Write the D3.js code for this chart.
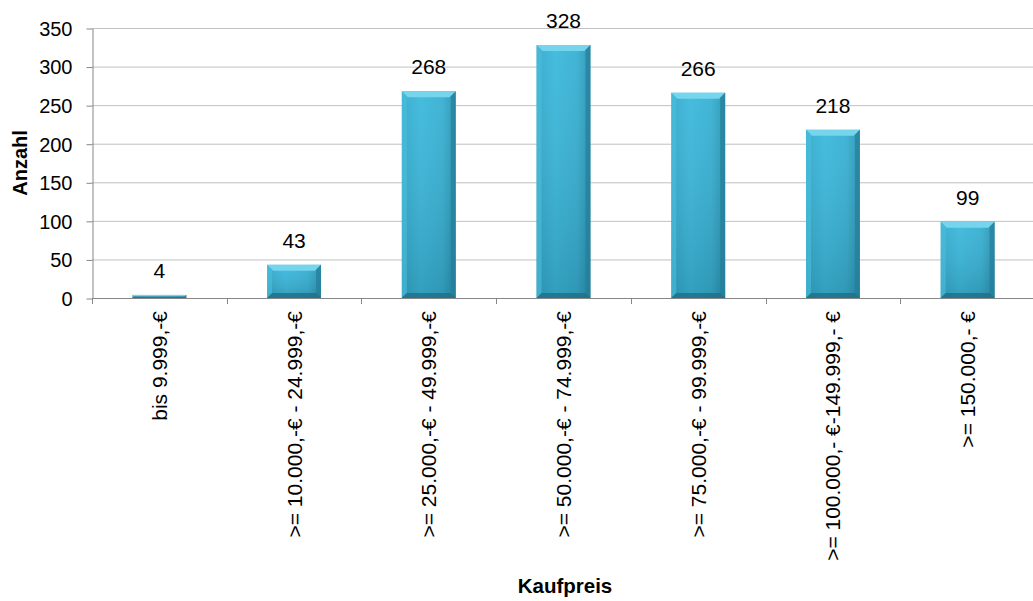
<!DOCTYPE html>
<html><head><meta charset="utf-8">
<script src="https://cdn.jsdelivr.net/npm/d3@7"></script>
<style>body{margin:0;background:#fff}svg{display:block}</style>
</head><body><svg id="c" width="1033" height="601"></svg>
<script>
const categories = ["bis 9.999,-€", ">= 10.000,-€ - 24.999,-€", ">= 25.000,-€ - 49.999,-€", ">= 50.000,-€ - 74.999,-€", ">= 75.000,-€ - 99.999,-€", ">= 100.000,- €-149.999,- €", ">= 150.000,- €"];
const values = [4, 43, 268, 328, 266, 218, 99];
const yTicks = [0, 50, 100, 150, 200, 250, 300, 350];

const svg = d3.select("#c");
const m = {l: 92, r: -2};
const W = 1033;
const x = d3.scaleBand().domain(categories).range([m.l, W - m.r]).paddingInner(0.6).paddingOuter(0.3);
const y = d3.scaleLinear().domain([0, 350]).range([298, 28]);
const font = "'Liberation Sans', Arial, sans-serif";

const defs = svg.append("defs");
const g1 = defs.append("linearGradient").attr("id", "bg").attr("x1", 0).attr("x2", 1).attr("y1", 0).attr("y2", 0);
g1.append("stop").attr("offset", 0).attr("stop-color", "#32a9cb");
g1.append("stop").attr("offset", 0.35).attr("stop-color", "#3ab8dc");
g1.append("stop").attr("offset", 0.75).attr("stop-color", "#36afd2");
g1.append("stop").attr("offset", 1).attr("stop-color", "#2993b2");
const g2 = defs.append("linearGradient").attr("id", "vg").attr("x1", 0).attr("x2", 0).attr("y1", 0).attr("y2", 1);
g2.append("stop").attr("offset", 0).attr("stop-color", "#ffffff").attr("stop-opacity", 0.06);
g2.append("stop").attr("offset", 1).attr("stop-color", "#000000").attr("stop-opacity", 0.14);

// gridlines
svg.append("g").selectAll("line").data(yTicks.filter(d => d > 0)).join("line")
  .attr("x1", m.l).attr("x2", W).attr("y1", d => y(d) + 0.5).attr("y2", d => y(d) + 0.5)
  .attr("stroke", "#c0c0c0").attr("stroke-width", 1);

// y axis
const ya = svg.append("g").attr("transform", `translate(${m.l + 0.5},0.5)`)
  .call(d3.axisLeft(y).tickValues(yTicks).tickSize(6).tickSizeOuter(0).tickPadding(14));
ya.select(".domain").attr("stroke", "#868686");
ya.selectAll(".tick line").attr("stroke", "#868686");
ya.selectAll("text").attr("font-family", font).attr("font-size", 20).attr("fill", "#000").attr("dy", "0.34em");

// bars
const bars = svg.append("g").selectAll("g").data(values).join("g");
const bw = x.bandwidth();
bars.append("rect")
  .attr("x", (d, i) => x(categories[i])).attr("y", d => y(d))
  .attr("width", bw).attr("height", d => y(0) - y(d)).attr("fill", "url(#bg)");
bars.append("rect")
  .attr("x", (d, i) => x(categories[i])).attr("y", d => y(d))
  .attr("width", bw).attr("height", d => y(0) - y(d)).attr("fill", "url(#vg)");
bars.append("path").attr("d", (d, i) => {
  const x0 = x(categories[i]), x1 = x0 + bw, t = y(d), h = Math.min(6, (y(0) - y(d)) / 2);
  return `M${x0},${t}L${x1},${t}L${x1 - h},${t + h}L${x0 + h},${t + h}Z`;
}).attr("fill", "#74d5ec");
bars.append("path").attr("d", (d, i) => {
  const x0 = x(categories[i]), x1 = x0 + bw, t = y(d), b = y(0), h = Math.min(5, (b - t) / 2);
  return `M${x1},${t}L${x1},${b}L${x1 - h},${b - h}L${x1 - h},${t + h}Z`;
}).attr("fill", "#237f9a").attr("opacity", 0.7);
bars.append("path").attr("d", (d, i) => {
  const x0 = x(categories[i]), t = y(d), b = y(0), h = Math.min(5, (b - t) / 2);
  return `M${x0},${t}L${x0},${b}L${x0 + h},${b - h}L${x0 + h},${t + h}Z`;
}).attr("fill", "#4cc0de").attr("opacity", 0.6);
bars.append("path").attr("d", (d, i) => {
  const x0 = x(categories[i]), x1 = x0 + bw, t = y(d), b = y(0), h = Math.min(5, (b - t) / 2);
  return `M${x0},${b}L${x1},${b}L${x1 - h},${b - h}L${x0 + h},${b - h}Z`;
}).attr("fill", "#1f6f86").attr("opacity", 0.8);

// value labels
bars.append("text")
  .attr("x", (d, i) => x(categories[i]) + bw / 2).attr("y", d => y(d) - 17)
  .attr("text-anchor", "middle").attr("font-family", font).attr("font-size", 21).attr("fill", "#000")
  .text(d => d);

// x axis line + ticks at boundaries
svg.append("line").attr("x1", m.l).attr("x2", W).attr("y1", 298.5).attr("y2", 298.5).attr("stroke", "#868686");
const step = x.step();
const bounds = d3.range(categories.length + 1).map(i => m.l + i * step);
svg.append("g").selectAll("line").data(bounds).join("line")
  .attr("x1", d => Math.round(d) + 0.5).attr("x2", d => Math.round(d) + 0.5).attr("y1", 298).attr("y2", 304).attr("stroke", "#868686");

// x labels
svg.append("g").selectAll("text").data(categories).join("text")
  .attr("transform", d => `translate(${x(d) + bw / 2 + 7.5},311) rotate(-90)`)
  .attr("text-anchor", "end").attr("font-family", font).attr("font-size", 21).attr("fill", "#000")
  .text(d => d);

// axis titles
svg.append("text").attr("transform", "translate(27,163) rotate(-90)").attr("text-anchor", "middle")
  .attr("font-family", font).attr("font-size", 20).attr("font-weight", "bold").text("Anzahl");
svg.append("text").attr("x", 565).attr("y", 593).attr("text-anchor", "middle")
  .attr("font-family", font).attr("font-size", 20.5).attr("font-weight", "bold").text("Kaufpreis");
</script></body></html>
